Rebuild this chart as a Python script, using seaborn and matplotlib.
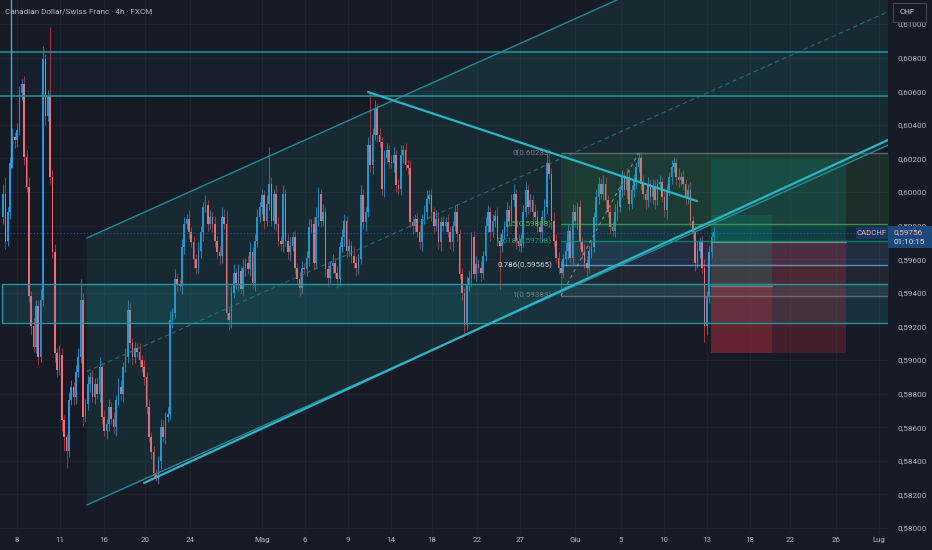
import numpy as np
import pandas as pd
import matplotlib
matplotlib.use("Agg")
import matplotlib.pyplot as plt
import seaborn as sns
from matplotlib.patches import Rectangle, Polygon

# -------------------------
# CADCHF 4h candles (prices in 1/10000: 5999 -> 0.5999)
# -------------------------
first_open = 5985
closes = [
    5999, 5971, 5988, 6017, 6033, 6031, 6037, 6059, 6064, 6021, 6003, 5938, 5920, 5908, 5932, 5902, 5936, 6079, 6045, 6057,
    6009, 5964, 5904, 5894, 5903, 5864, 5854, 5846, 5876, 5884, 5878, 5893, 5902, 5936, 5866, 5874, 5886, 5890, 5878, 5886,
    5880, 5896, 5866, 5858, 5862, 5872, 5865, 5860, 5876, 5884, 5880, 5896, 5902, 5930, 5910, 5902, 5907, 5905, 5900, 5896,
    5890, 5872, 5854, 5845, 5833, 5830, 5840, 5860, 5854, 5866, 5868, 5924, 5928, 5948, 5945, 5944, 5967, 5981, 5984, 5976,
    5970, 5960, 5955, 5965, 5976, 5991, 5992, 5981, 5985, 5981, 5971, 5964, 5962, 5985, 5981, 5928, 5924, 5940, 5952, 5946,
    5953, 5942, 5955, 5958, 5954, 5964, 5946, 5971, 5985, 5991, 5998, 5983, 5993, 6005, 5983, 5999, 5981, 5971, 5969, 5999,
    5971, 5964, 5968, 5973, 5955, 5948, 5943, 5955, 5954, 5961, 5979, 5981, 5958, 5985, 5999, 5983, 5988, 5954, 5949, 5956,
    5958, 5952, 5948, 5967, 5973, 5983, 5965, 5968, 5962, 5958, 5955, 5960, 5998, 5982, 5988, 6028, 6016, 6034, 6050, 6034,
    6030, 6002, 6020, 6025, 6018, 6017, 6022, 6004, 6002, 6022, 6025, 6016, 6014, 5982, 5980, 5984, 5976, 5970, 5984, 5988,
    5996, 5998, 5988, 5980, 5984, 5970, 5982, 5980, 5982, 5976, 5970, 5980, 5988, 5975, 5951, 5940, 5921, 5945, 5949, 5973,
    5951, 5957, 5955, 5952, 5962, 5980, 5988, 5976, 5983, 5986, 5971, 5968, 5975, 5979, 5989, 5983, 5995, 5999, 5971, 5968,
    5972, 5988, 6001, 5991, 5995, 5988, 5985, 5979, 5976, 5985, 5991, 6017, 6011, 5983, 5971, 5961, 5955, 5952, 5960, 5965,
    5977, 5961, 5988, 5983, 5991, 5970, 5964, 5958, 5955, 5965, 5967, 5985, 5997, 6005, 5999, 6005, 5995, 5988, 5979, 5977,
    5988, 5991, 6001, 6009, 6001, 6009, 5993, 6001, 6007, 6015, 6020, 6005, 5999, 5995, 6005, 5997, 6003, 5995, 6005, 6006,
    5997, 5989, 6001, 6009, 6015, 6017, 6009, 6007, 6009, 6005, 5997, 6001, 5983, 5976, 5958, 5965, 5970, 5955, 5920, 5938,
    5964, 5973, 5976,
]
# wick lengths above / below the body, in pips
wick_up = [
    6, 10, 3, 4, 5, 3, 4, 4, 3, 5, 4, 6, 3, 5, 4, 4, 6, 8, 3, 4,
    41, 4, 5, 3, 6, 4, 3, 2, 5, 4, 3, 4, 5, 12, 4, 3, 5, 3, 4, 3,
    4, 6, 3, 4, 3, 5, 3, 4, 3, 5, 4, 3, 5, 6, 4, 3, 4, 3, 5, 3,
    4, 3, 5, 3, 4, 2, 3, 5, 4, 3, 4, 5, 3, 6, 4, 3, 5, 4, 3, 5,
    3, 4, 3, 5, 4, 3, 6, 3, 4, 3, 5, 3, 4, 6, 5, 8, 3, 4, 5, 3,
    4, 3, 5, 3, 4, 6, 3, 4, 5, 3, 4, 3, 5, 22, 4, 3, 5, 4, 3, 5,
    3, 4, 5, 3, 4, 3, 5, 4, 3, 4, 5, 3, 4, 6, 4, 3, 5, 3, 4, 3,
    5, 3, 4, 3, 5, 4, 3, 4, 3, 5, 4, 3, 6, 4, 3, 5, 31, 4, 5, 3,
    4, 3, 5, 4, 3, 4, 5, 3, 4, 6, 3, 4, 3, 5, 4, 3, 4, 5, 3, 4,
    5, 3, 4, 3, 5, 4, 3, 4, 3, 5, 4, 3, 4, 5, 3, 4, 3, 5, 4, 3,
    4, 5, 3, 4, 3, 5, 4, 3, 4, 3, 5, 4, 3, 4, 5, 3, 4, 6, 3, 4,
    3, 4, 5, 3, 4, 3, 5, 4, 3, 4, 5, 6, 4, 3, 5, 4, 3, 4, 3, 5,
    4, 3, 5, 4, 3, 4, 3, 5, 4, 3, 4, 3, 5, 4, 3, 5, 4, 3, 4, 3,
    5, 4, 3, 4, 3, 5, 4, 3, 4, 3, 3, 4, 5, 3, 4, 3, 5, 4, 3, 4,
    3, 5, 4, 3, 4, 4, 3, 5, 3, 4, 3, 4, 5, 3, 4, 6, 3, 4, 5, 3,
    4, 3, 3,
]
wick_dn = [
    4, 5, 3, 4, 3, 5, 4, 3, 4, 5, 3, 4, 5, 3, 4, 5, 3, 4, 5, 3,
    4, 3, 5, 4, 3, 6, 8, 10, 4, 3, 5, 4, 3, 4, 5, 3, 4, 5, 3, 4,
    3, 5, 4, 3, 5, 4, 3, 4, 5, 3, 4, 5, 3, 4, 3, 5, 4, 3, 4, 3,
    5, 4, 3, 4, 3, 2, 4, 5, 3, 4, 3, 4, 5, 3, 4, 3, 5, 4, 3, 4,
    3, 5, 4, 3, 4, 5, 3, 4, 3, 5, 4, 3, 5, 4, 3, 4, 6, 5, 3, 4,
    5, 3, 4, 5, 3, 4, 3, 5, 4, 3, 4, 5, 3, 4, 3, 5, 4, 3, 4, 5,
    3, 4, 5, 3, 4, 3, 5, 4, 3, 4, 5, 3, 4, 3, 5, 4, 3, 4, 5, 3,
    4, 3, 5, 4, 3, 5, 4, 3, 4, 3, 5, 4, 3, 4, 5, 3, 4, 5, 3, 4,
    3, 4, 5, 3, 4, 3, 5, 4, 3, 4, 5, 3, 4, 3, 5, 4, 3, 4, 5, 3,
    4, 3, 5, 4, 3, 4, 5, 3, 4, 3, 4, 5, 3, 4, 3, 4, 5, 3, 4, 5,
    3, 4, 3, 5, 4, 3, 4, 5, 3, 4, 3, 26, 4, 3, 5, 4, 3, 4, 5, 3,
    4, 5, 3, 4, 3, 5, 4, 3, 4, 5, 3, 4, 3, 5, 4, 3, 4, 14, 3, 4,
    5, 3, 4, 3, 5, 4, 3, 4, 5, 3, 4, 3, 5, 4, 3, 4, 5, 3, 4, 3,
    4, 5, 3, 4, 3, 5, 4, 3, 4, 5, 3, 4, 3, 5, 4, 3, 4, 5, 3, 4,
    3, 4, 5, 3, 4, 3, 5, 4, 3, 4, 5, 4, 3, 4, 5, 3, 4, 3, 9, 5,
    4, 3, 3,
]
last_price = 0.59756

# x axis: bar index, date labels
date_labels = ["8", "11", "16", "20", "24", "Mag", "6", "9", "14", "18", "22", "27",
               "Giu", "5", "10", "13", "18", "22", "26", "Lug"]
date_pos = [5.9, 24.2, 42.9, 60.3, 79.4, 110.0, 128.3, 146.6, 164.8, 182.2, 201.4, 219.6,
            243.0, 262.5, 280.8, 299.1, 317.3, 334.3, 353.9, 372.1]
price_ticks = [0.580, 0.582, 0.584, 0.586, 0.588, 0.590, 0.592, 0.594,
               0.596, 0.598, 0.600, 0.602, 0.604, 0.606, 0.608, 0.610]

# drawings (bar, price anchors)
channel_lo = [(35.6, 0.58137), (376.0, 0.60279)]
channel_width = 0.01589
trend_up = [(59.9, 0.58268), (376.0, 0.60310)]
trend_dn = [(155.1, 0.60595), (294.8, 0.59946)]
resist_band = (0.60571, 0.60833)
support_box = (0.59220, 0.59452)
fib_start, fib_end = 237, 270
fib_levels = [0, 0.5, 0.618, 0.786, 1]
fib_prices = [0.60233, 0.59808, 0.59708, 0.59565, 0.59383]
fib_colors = ["#787b86", "#4caf50", "#089981", "#64b5f6", "#787b86"]
# long positions: (x0, x1, stop, entry, target)
positions = [(300.8, 358.1, 0.59042, 0.59700, 0.60196),
             (300.8, 326.7, 0.59042, 0.59440, 0.59863)]

# -------------------------
# Build OHLC frame
# -------------------------
df = pd.DataFrame({"close": np.array(closes) / 10000})
df["open"] = np.r_[first_open / 10000, df["close"].values[:-1]]
df["high"] = df[["open", "close"]].max(axis=1) + np.array(wick_up) / 10000
df["low"] = df[["open", "close"]].min(axis=1) - np.array(wick_dn) / 10000
df["bar"] = np.arange(len(df))
df["up"] = df["close"] >= df["open"]

# -------------------------
# Style
# -------------------------
BG = "#161a25"
TXT = "#b2b5be"
sns.set_theme(style="dark", rc={
    "axes.facecolor": BG, "figure.facecolor": BG,
    "grid.color": "#1f2330", "grid.linewidth": 0.7,
    "axes.grid": True,
})
plt.rcParams["font.family"] = ["Roboto", "DejaVu Sans"]

fig = plt.figure(figsize=(9.32, 5.5), dpi=100)
ax = fig.add_axes([0, 17 / 550, 888 / 932, 533 / 550])
XL, XR = -1.27, 375.96
ax.set_xlim(XL, XR)
ax.set_ylim(0.579702, 0.611429)
ax.set_axisbelow(True)
for s in ax.spines.values():
    s.set_visible(False)


def line_at(anchors, x):
    (x0, y0), (x1, y1) = anchors
    return y0 + (y1 - y0) * (x - x0) / (x1 - x0)


XE = 380
# parallel channel
lo_l, lo_r = line_at(channel_lo, 35.6), line_at(channel_lo, XE)
ax.add_patch(Polygon([(35.6, lo_l), (XE, lo_r), (XE, lo_r + channel_width), (35.6, lo_l + channel_width)],
                     closed=True, facecolor="#20a090", alpha=0.12, edgecolor="none", zorder=3))
CH = "#1d8d95"
ax.plot([35.6, XE], [lo_l, lo_r], color=CH, lw=1.0, zorder=4)
ax.plot([35.6, XE], [lo_l + channel_width, lo_r + channel_width], color=CH, lw=1.0, zorder=4)
ax.plot([35.6, XE], [lo_l + channel_width / 2, lo_r + channel_width / 2], color=CH, lw=0.8,
        ls=(0, (4, 3)), alpha=0.7, zorder=4)

# resistance band and support box
ax.axhspan(*resist_band, color="#22a0b0", alpha=0.05, lw=0, zorder=3)
for p in resist_band:
    ax.axhline(p, color="#1f97a3", lw=1.1, zorder=4)
ax.add_patch(Rectangle((-0.4, support_box[0]), XE, support_box[1] - support_box[0],
                       facecolor="#22a5b0", alpha=0.17, edgecolor="none", zorder=3))
ax.add_patch(Rectangle((-0.4, support_box[0]), XE, support_box[1] - support_box[0],
                       facecolor="none", edgecolor="#2197a3", lw=1.0, zorder=4))

# fibonacci retracement
for i in range(len(fib_prices) - 1):
    ax.fill_between([fib_start, XE], fib_prices[i + 1], fib_prices[i], color=fib_colors[i + 1],
                    alpha=0.13, lw=0, zorder=3)
for lv, pr, col in zip(fib_levels, fib_prices, fib_colors):
    ax.plot([fib_start, XE], [pr, pr], color=col, lw=1.0, alpha=0.75, zorder=4)
    ax.text(fib_start - 3.8, pr, f"{lv}({pr:.5f})", color=col if lv != 0.786 else "#c9d6e3",
            fontsize=5.8, ha="right", va="center", zorder=5)
ax.plot([fib_start, fib_end], [fib_prices[-1], fib_prices[0]], color="#9598a1", lw=0.8,
        ls=(0, (3, 3)), alpha=0.8, zorder=4)

# long position tools
for x0, x1, stop, entry, target in positions:
    ax.add_patch(Rectangle((x0, entry), x1 - x0, target - entry, facecolor="#089981",
                           alpha=0.2, edgecolor="none", zorder=3))
    ax.add_patch(Rectangle((x0, stop), x1 - x0, entry - stop, facecolor="#f23645",
                           alpha=0.2, edgecolor="none", zorder=3))
    ax.plot([x0, x1], [entry, entry], color="#9598a1", lw=0.9, alpha=0.7, zorder=4)

# candles
up = df[df["up"]]
dn = df[~df["up"]]
for part, body, wick in [(up, "#2196dc", "#1a80bc"), (dn, "#f26b76", "#a8323f")]:
    ax.vlines(part["bar"], part["low"], part["high"], color=wick, lw=0.7, zorder=2)
    h = (part["close"] - part["open"]).abs().clip(lower=0.00003)
    ax.bar(part["bar"], h, bottom=part[["open", "close"]].min(axis=1), width=0.7,
           color=body, lw=0, zorder=2)

# trend lines
TL = "#2ab4c8"
ax.plot([trend_up[0][0], XE], [trend_up[0][1], line_at(trend_up, XE)], color=TL, lw=1.6, zorder=5)
ax.plot([p[0] for p in trend_dn], [p[1] for p in trend_dn], color=TL, lw=1.6, zorder=5)
ax.plot([3.2, 3.2], [0.6015, 0.6120], color=TL, lw=1.0, zorder=5)

# last price line
ax.axhline(last_price, color="#2962ff", lw=0.8, ls=(0, (1, 2)), alpha=0.7, zorder=5)

# axes ticks
ax.set_xticks(date_pos)
ax.set_xticklabels(date_labels)
ax.set_yticks(price_ticks)
ax.set_yticklabels([f"{v:.5f}".replace(".", ",") for v in price_ticks])
ax.yaxis.tick_right()
ax.tick_params(axis="y", length=0, pad=6.5, labelsize=5.9, labelcolor=TXT)
ax.tick_params(axis="x", length=0, pad=3.2, labelsize=5.7, labelcolor=TXT)
ax.grid(True, color="#1f2330", lw=0.7)

# title
fig.text(5 / 932, 1 - 12 / 550, "Canadian Dollar/Swiss Franc · 4h · FXCM", color=TXT,
         fontsize=5.9, ha="left", va="center")

# currency box
fig.patches.append(Rectangle((893 / 932, 1 - 22 / 550), 33 / 932, 19 / 550, transform=fig.transFigure,
                             facecolor=BG, edgecolor="#434651", lw=0.8, zorder=10))
fig.text(899 / 932, 1 - 12.5 / 550, "CHF", color="#d1d4dc", fontsize=5.8, ha="left", va="center", zorder=11)

# symbol + price labels
fig.patches.append(Rectangle((856 / 932, 1 - 239 / 550), 32 / 932, 12 / 550, transform=fig.transFigure,
                             facecolor="#173a63", edgecolor="none", zorder=10))
fig.text(872 / 932, 1 - 233 / 550, "CADCHF", color="#f4a3b0", fontsize=5.6, ha="center",
         va="center", zorder=11)
fig.patches.append(Rectangle((888 / 932, 1 - 248 / 550), 44 / 932, 22 / 550, transform=fig.transFigure,
                             facecolor="#1b4a7a", edgecolor="none", zorder=10))
fig.text(893 / 932, 1 - 232 / 550, f"{last_price:.5f}".replace(".", ","), color="#f6b3bd",
         fontsize=5.9, ha="left", va="center", zorder=11)
fig.text(893 / 932, 1 - 242 / 550, "01:10:15", color="#dfe3ea", fontsize=5.9, ha="left",
         va="center", zorder=11)

fig.savefig("out.png", dpi=100, facecolor=BG)
